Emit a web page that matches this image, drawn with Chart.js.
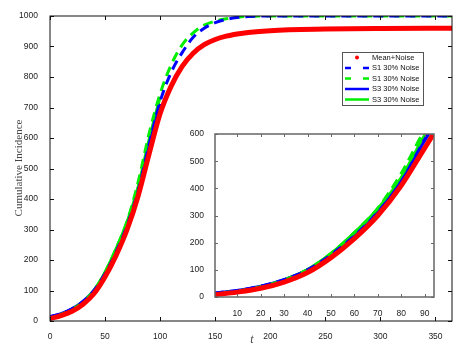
<!DOCTYPE html>
<html lang="en">
<head>
    <meta charset="UTF-8">
    <title>Cumulative Incidence</title>
    <style>
        body {
            margin: 0;
            background: #ffffff;
        }
        .wrap {
            position: relative;
            width: 465px;
            height: 349px;
        }
        #mainChart {
            position: absolute;
            left: 0;
            top: 0;
        }
        #insetChart {
            position: absolute;
            left: 190px;
            top: 120px;
        }
    </style>
</head>
<body>
    <div class="wrap">
        <canvas id="mainChart" width="465" height="349"></canvas>
        <canvas id="insetChart" width="255" height="200"></canvas>
    </div>
    <script src="https://cdn.jsdelivr.net/npm/chart.js"></script>
    <script>
        // time points (days)
        const tValues = [0, 10, 20, 30, 40, 50, 60, 70, 80, 90, 100, 110, 120, 130, 140, 150, 160, 170, 180, 200, 250, 300, 365];
        const meanNoise = [8, 18, 32, 55, 90, 145, 215, 300, 410, 548, 680, 770, 835, 878, 906, 923, 934, 941, 946, 952, 957, 959, 960];
        const s1Blue = [14, 24, 40, 64, 100, 155, 225, 312, 425, 580, 720, 815, 880, 930, 960, 978, 989, 995, 998, 1000, 1000, 1000, 1000];
        const s1Green = [12, 22, 38, 63, 101, 160, 237, 327, 455, 615, 745, 840, 905, 945, 970, 983, 991, 996, 999, 1000, 1000, 1000, 1000];
        // S3 curves only run up to t = 100
        const s3Blue = [14, 24, 40, 64, 100, 155, 225, 312, 425, 575, 712];
        const s3Green = [12, 22, 38, 63, 101, 160, 237, 325, 440, 595, 735];

        const seriesLabels = ['Mean+Noise', 'S1 30% Noise', 'S1 30% Noise', 'S3 30% Noise', 'S3 30% Noise'];

        const mainXTicks = [0, 50, 100, 150, 200, 250, 300, 350];
        const mainYTicks = [0, 100, 200, 300, 400, 500, 600, 700, 800, 900, 1000];
        const insetXTicks = [10, 20, 30, 40, 50, 60, 70, 80, 90];
        const insetYTicks = [0, 100, 200, 300, 400, 500, 600];

        const tickFont = { family: 'Liberation Sans, Arial, sans-serif', size: 8.5 };
        const tickColor = '#222222';

        function pts(ys) {
            return ys.map((y, i) => ({ x: tValues[i], y: y }));
        }

        function makeDatasets() {
            return [
                { label: seriesLabels[0], data: pts(meanNoise), borderColor: '#ff0000', borderWidth: 5, pointRadius: 0, cubicInterpolationMode: 'monotone' },
                { label: seriesLabels[1], data: pts(s1Blue), borderColor: '#0000ff', borderWidth: 3, borderDash: [10, 6], pointRadius: 0, cubicInterpolationMode: 'monotone' },
                { label: seriesLabels[2], data: pts(s1Green), borderColor: '#00ee00', borderWidth: 3, borderDash: [10, 6], borderDashOffset: 8, pointRadius: 0, cubicInterpolationMode: 'monotone' },
                { label: seriesLabels[3], data: pts(s3Blue), borderColor: '#0000ff', borderWidth: 3, pointRadius: 0, cubicInterpolationMode: 'monotone' },
                { label: seriesLabels[4], data: pts(s3Green), borderColor: '#00ee00', borderWidth: 3, pointRadius: 0, cubicInterpolationMode: 'monotone' }
            ];
        }

        // MATLAB style box with inward ticks
        function boxPlugin(color, width, tickLen) {
            return {
                id: 'box',
                beforeDraw(chart) {
                    const a = chart.chartArea;
                    const ctx = chart.ctx;
                    ctx.save();
                    ctx.fillStyle = '#ffffff';
                    ctx.fillRect(a.left, a.top, a.right - a.left, a.bottom - a.top);
                    ctx.restore();
                },
                afterDraw(chart) {
                    const a = chart.chartArea;
                    const ctx = chart.ctx;
                    const xs = chart.scales.x;
                    const ys = chart.scales.y;
                    ctx.save();
                    ctx.strokeStyle = color;
                    ctx.lineWidth = width;
                    ctx.strokeRect(a.left, a.top, a.right - a.left, a.bottom - a.top);
                    ctx.lineWidth = 1;
                    ctx.beginPath();
                    xs.ticks.forEach(t => {
                        const px = Math.round(xs.getPixelForValue(t.value)) + 0.5;
                        ctx.moveTo(px, a.bottom);
                        ctx.lineTo(px, a.bottom - tickLen);
                        ctx.moveTo(px, a.top);
                        ctx.lineTo(px, a.top + tickLen);
                    });
                    ys.ticks.forEach(t => {
                        const py = Math.round(ys.getPixelForValue(t.value)) + 0.5;
                        ctx.moveTo(a.left, py);
                        ctx.lineTo(a.left + tickLen, py);
                        ctx.moveTo(a.right, py);
                        ctx.lineTo(a.right - tickLen, py);
                    });
                    ctx.stroke();
                    ctx.restore();
                }
            };
        }

        const mainDecor = {
            id: 'mainDecor',
            afterDraw(chart) {
                const ctx = chart.ctx;
                ctx.save();
                // axis titles
                ctx.fillStyle = '#444444';
                ctx.font = '11px "Liberation Serif", "Times New Roman", serif';
                ctx.textAlign = 'center';
                ctx.textBaseline = 'middle';
                ctx.translate(19, 168);
                ctx.rotate(-Math.PI / 2);
                ctx.fillText('Cumulative Incidence', 0, 0);
                ctx.restore();

                ctx.save();
                ctx.fillStyle = '#444444';
                ctx.font = 'italic 12px "Liberation Serif", "Times New Roman", serif';
                ctx.textAlign = 'center';
                ctx.textBaseline = 'middle';
                ctx.fillText('t', 252, 340);

                // legend box
                const bx = 342, by = 52, bw = 81, bh = 53;
                ctx.fillStyle = '#ffffff';
                ctx.fillRect(bx, by, bw, bh);
                ctx.strokeStyle = '#555555';
                ctx.lineWidth = 1;
                ctx.strokeRect(bx + 0.5, by + 0.5, bw, bh);
                const rows = [57.5, 68, 78.5, 89, 99.5];
                const ds = chart.data.datasets;
                ctx.font = '7.5px "Liberation Sans", Arial, sans-serif';
                ctx.textAlign = 'left';
                ctx.textBaseline = 'middle';
                rows.forEach((ry, i) => {
                    const d = ds[i];
                    if (i === 0) {
                        ctx.fillStyle = d.borderColor;
                        ctx.beginPath();
                        ctx.arc(357, ry, 2, 0, Math.PI * 2);
                        ctx.fill();
                    } else {
                        ctx.strokeStyle = d.borderColor;
                        ctx.lineWidth = 2.5;
                        ctx.setLineDash(d.borderDash ? [6, 12] : []);
                        ctx.beginPath();
                        ctx.moveTo(345, ry);
                        ctx.lineTo(369, ry);
                        ctx.stroke();
                        ctx.setLineDash([]);
                    }
                    ctx.fillStyle = '#111111';
                    ctx.fillText(d.label, 372, ry);
                });
                ctx.restore();
            }
        };

        const plainLabel = v => String(v);

        new Chart(document.getElementById('mainChart'), {
            type: 'line',
            data: { datasets: makeDatasets() },
            options: {
                responsive: false,
                animation: false,
                layout: { padding: { left: 0, top: 16, right: 13, bottom: 0 } },
                plugins: { legend: { display: false }, tooltip: { enabled: false } },
                scales: {
                    x: {
                        type: 'linear',
                        min: 0,
                        max: 365,
                        grid: { display: false },
                        border: { display: false },
                        afterBuildTicks: s => { s.ticks = mainXTicks.map(v => ({ value: v })); },
                        afterFit: s => { s.height = 28; },
                        ticks: { font: tickFont, color: tickColor, padding: 3, maxRotation: 0, callback: plainLabel }
                    },
                    y: {
                        min: 0,
                        max: 1000,
                        grid: { display: false },
                        border: { display: false },
                        afterBuildTicks: s => { s.ticks = mainYTicks.map(v => ({ value: v })); },
                        afterFit: s => { s.width = 50; },
                        ticks: { font: tickFont, color: tickColor, padding: 4, callback: plainLabel }
                    }
                }
            },
            plugins: [boxPlugin('#111111', 1, 4), mainDecor]
        });

        new Chart(document.getElementById('insetChart'), {
            type: 'line',
            data: { datasets: makeDatasets() },
            options: {
                responsive: false,
                animation: false,
                layout: { padding: { left: 0, top: 14, right: 11, bottom: 0 } },
                plugins: { legend: { display: false }, tooltip: { enabled: false } },
                scales: {
                    x: {
                        type: 'linear',
                        min: 0.5,
                        max: 94,
                        grid: { display: false },
                        border: { display: false },
                        afterBuildTicks: s => { s.ticks = insetXTicks.map(v => ({ value: v })); },
                        afterFit: s => { s.height = 23; },
                        ticks: { font: tickFont, color: tickColor, padding: 4, maxRotation: 0, callback: plainLabel }
                    },
                    y: {
                        min: 0,
                        max: 600,
                        grid: { display: false },
                        border: { display: false },
                        afterBuildTicks: s => { s.ticks = insetYTicks.map(v => ({ value: v })); },
                        afterFit: s => { s.width = 25; },
                        ticks: { font: tickFont, color: tickColor, padding: 3, callback: plainLabel }
                    }
                }
            },
            plugins: [boxPlugin('#666666', 1.5, 3)]
        });
    </script>
</body>
</html>
